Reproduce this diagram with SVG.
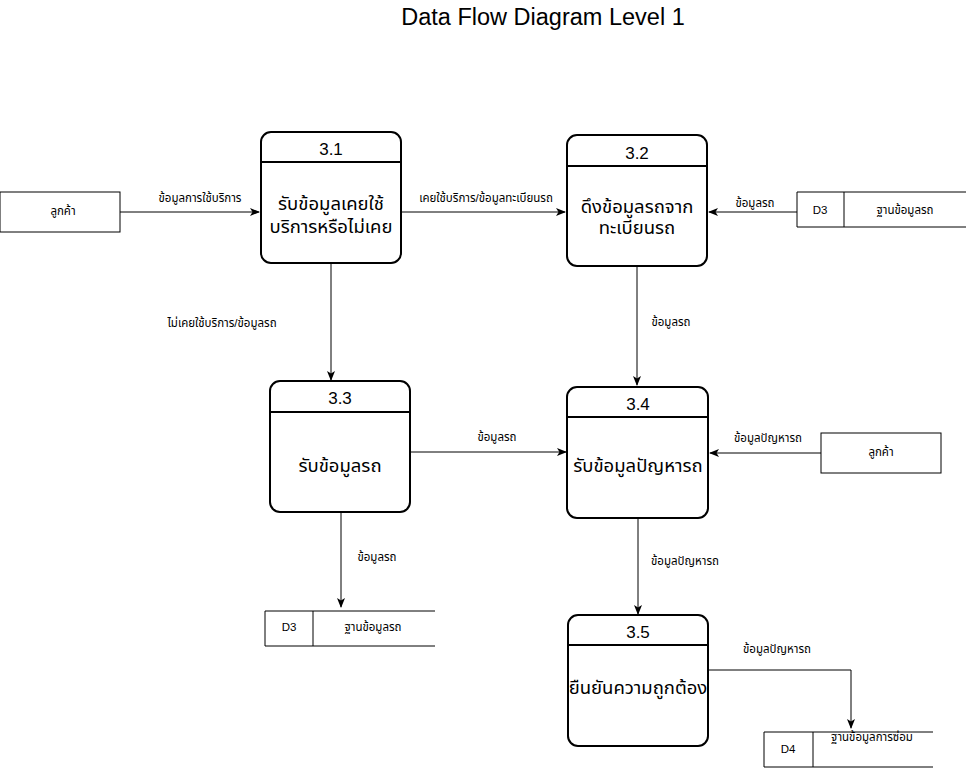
<svg xmlns="http://www.w3.org/2000/svg" width="966" height="774" viewBox="0 0 966 774">
<style>
text{font-family:"Liberation Sans","Noto Sans Thai","Noto Sans",sans-serif;fill:#000;text-anchor:middle;dominant-baseline:central}
.proc{fill:#fff;stroke:#000;stroke-width:2}
.hdr{stroke:#000;stroke-width:2}
.num{font-size:17px}
.ptxt{font-size:18.5px}
.lbl{font-size:11.5px}
.ent{fill:#fff;stroke:#000;stroke-width:1}
.st{fill:none;stroke:#000;stroke-width:1}
.conn path{fill:none;stroke:#000;stroke-width:1;marker-end:url(#arr)}
</style>
<defs>
<marker id="arr" viewBox="0 0 10 10" refX="9" refY="5" markerWidth="10" markerHeight="10" markerUnits="userSpaceOnUse" orient="auto">
<path d="M0,1 L10,5 L0,9 L2.5,5 Z" fill="#000"/>
</marker>
</defs>
<rect width="966" height="774" fill="#fff"/>
<text x="543" y="17" style="font-size:23.5px">Data Flow Diagram Level 1</text>

<g id="conns" class="conn">
<path d="M120,212 H259"/>
<path d="M402,212 H565"/>
<path d="M797,212 H709"/>
<path d="M331,263 V380"/>
<path d="M637,266 V385"/>
<path d="M411,452 H566"/>
<path d="M821,453 H710"/>
<path d="M341,512 V607"/>
<path d="M638,518 V614"/>
<path d="M708,670 H851 V728"/>
</g>
<g id="conn-labels">
<text x="200" y="198" class="lbl">ข้อมูลการใช้บริการ</text>
<text x="486" y="198" class="lbl">เคยใช้บริการ/ข้อมูลทะเบียนรถ</text>
<text x="755" y="203" class="lbl">ข้อมูลรถ</text>
<text x="222" y="323" class="lbl">ไม่เคยใช้บริการ/ข้อมูลรถ</text>
<text x="671" y="322" class="lbl">ข้อมูลรถ</text>
<text x="497" y="437" class="lbl">ข้อมูลรถ</text>
<text x="768" y="438" class="lbl">ข้อมูลปัญหารถ</text>
<text x="377" y="557" class="lbl">ข้อมูลรถ</text>
<text x="685" y="561" class="lbl">ข้อมูลปัญหารถ</text>
<text x="777" y="649" class="lbl">ข้อมูลปัญหารถ</text>
</g>

<g id="ext-customer1">
<rect class="ent" x="0" y="192" width="120" height="40"/>
<text x="63" y="211" class="lbl">ลูกค้า</text>
</g>
<g id="ext-customer2">
<rect class="ent" x="821" y="433" width="120" height="40"/>
<text x="881" y="452" class="lbl">ลูกค้า</text>
</g>

<g id="p31">
<rect class="proc" x="261" y="132" width="140" height="131" rx="10"/>
<line class="hdr" x1="261" y1="162" x2="401" y2="162"/>
<text x="331" y="149" class="num">3.1</text>
<text x="331" y="203" class="ptxt">รับข้อมูลเคยใช้</text>
<text x="331" y="226" class="ptxt">บริการหรือไม่เคย</text>
</g>
<g id="p32">
<rect class="proc" x="567" y="135" width="140" height="131" rx="10"/>
<line class="hdr" x1="567" y1="166" x2="707" y2="166"/>
<text x="637" y="153" class="num">3.2</text>
<text x="637" y="206" class="ptxt">ดึงข้อมูลรถจาก</text>
<text x="637" y="227" class="ptxt">ทะเบียนรถ</text>
</g>
<g id="p33">
<rect class="proc" x="270" y="381" width="140" height="131" rx="10"/>
<line class="hdr" x1="270" y1="412" x2="410" y2="412"/>
<text x="340" y="398" class="num">3.3</text>
<text x="340" y="465" class="ptxt">รับข้อมูลรถ</text>
</g>
<g id="p34">
<rect class="proc" x="567" y="387" width="141" height="131" rx="10"/>
<line class="hdr" x1="567" y1="417" x2="708" y2="417"/>
<text x="638" y="404" class="num">3.4</text>
<text x="638" y="465" class="ptxt">รับข้อมูลปัญหารถ</text>
</g>
<g id="p35">
<rect class="proc" x="568" y="615" width="140" height="131" rx="10"/>
<line class="hdr" x1="568" y1="645" x2="708" y2="645"/>
<text x="638" y="632" class="num">3.5</text>
<text x="638" y="687" class="ptxt">ยืนยันความถูกต้อง</text>
</g>

<g id="store-d3-top">
<path class="st" d="M966,192 H797 V227 H966 M844,192 V227"/>
<text x="820" y="210" class="lbl">D3</text>
<text x="905" y="210" class="lbl">ฐานข้อมูลรถ</text>
</g>
<g id="store-d3-bottom">
<path class="st" d="M435,611 H265 V646 H435 M313,611 V646"/>
<text x="289" y="627" class="lbl">D3</text>
<text x="373" y="627" class="lbl">ฐานข้อมูลรถ</text>
</g>
<g id="store-d4">
<path class="st" d="M933,732 H764 V767 H933 M813,732 V767"/>
<text x="788" y="749" class="lbl">D4</text>
<text x="872" y="737" class="lbl">ฐานข้อมูลการซ่อม</text>
</g>
</svg>
